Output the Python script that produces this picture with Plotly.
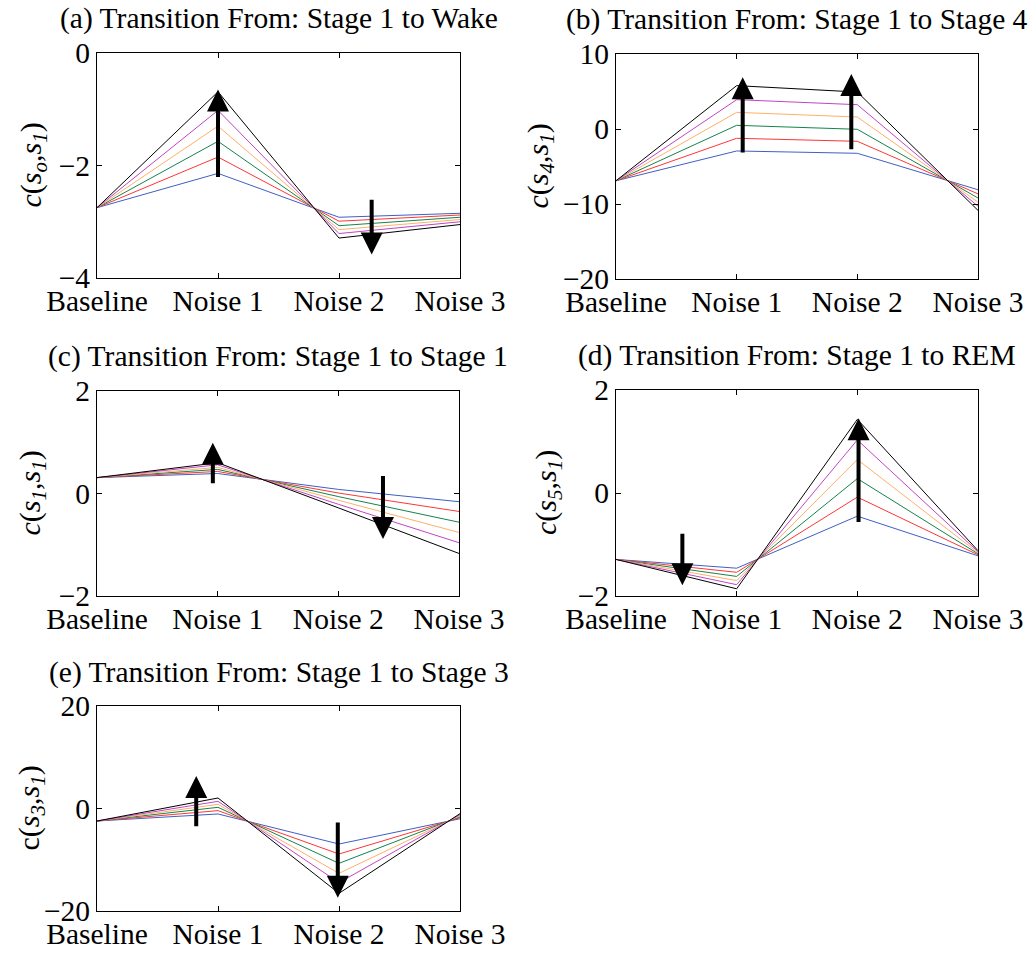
import plotly.graph_objects as go

W, H = 1031, 953

categories = ["Baseline", "Noise 1", "Noise 2", "Noise 3"]
series_colors = ["#3f5fc4", "#ff3535", "#14844c", "#ffb068", "#c444c4", "#000000"]

# panel (a): c(s_o, s_1)
a_blue = [-2.75, -2.14, -2.92, -2.85]
a_red = [-2.75, -1.85, -2.99, -2.88]
a_green = [-2.75, -1.57, -3.07, -2.92]
a_orange = [-2.75, -1.30, -3.14, -2.96]
a_magenta = [-2.75, -1.02, -3.21, -3.00]
a_black = [-2.75, -0.69, -3.29, -3.05]

# panel (b): c(s_4, s_1)
b_blue = [-6.9, -2.93, -3.24, -8.10]
b_red = [-6.9, -1.24, -1.64, -8.65]
b_green = [-6.9, 0.49, -0.04, -9.20]
b_orange = [-6.9, 2.22, 1.60, -9.75]
b_magenta = [-6.9, 3.91, 3.24, -10.30]
b_black = [-6.9, 5.78, 4.93, -10.85]

# panel (c): c(s_1, s_1)
c_blue = [0.31, 0.39, 0.08, -0.16]
c_red = [0.31, 0.43, 0.01, -0.35]
c_green = [0.31, 0.47, -0.06, -0.56]
c_orange = [0.31, 0.51, -0.13, -0.76]
c_magenta = [0.31, 0.56, -0.21, -0.96]
c_black = [0.31, 0.60, -0.28, -1.17]

# panel (d): c(s_5, s_1)
d_blue = [-1.29, -1.46, -0.45, -1.22]
d_red = [-1.29, -1.54, -0.08, -1.20]
d_green = [-1.29, -1.62, 0.28, -1.18]
d_orange = [-1.29, -1.70, 0.65, -1.16]
d_magenta = [-1.29, -1.78, 1.03, -1.14]
d_black = [-1.29, -1.86, 1.43, -1.12]

# panel (e): c(s_3, s_1)
e_blue = [-2.44, -1.07, -6.93, -2.0]
e_red = [-2.44, -0.42, -8.88, -1.8]
e_green = [-2.44, 0.23, -10.70, -1.6]
e_orange = [-2.44, 0.81, -12.65, -1.4]
e_magenta = [-2.44, 1.40, -14.47, -1.2]
e_black = [-2.44, 2.05, -16.55, -1.0]

# arrows: (category index, tail value, tip value)
a_arrows = [(1.0, -2.23, -0.65), (2.27, -2.58, -3.58)]
b_arrows = [(1.05, -3.33, 6.89), (1.95, -2.89, 7.33)]
c_arrows = [(0.96, 0.17, 0.99), (2.37, 0.37, -0.89)]
d_arrows = [(0.55, -0.76, -1.79), (2.01, -0.59, 1.45)]
e_arrows = [(0.82, -3.74, 6.34), (1.99, -2.44, -17.4)]

titles = [
    "(a) Transition From: Stage 1 to Wake",
    "(b) Transition From: Stage 1 to Stage 4",
    "(c) Transition From: Stage 1 to Stage 1",
    "(d) Transition From: Stage 1 to REM",
    "(e) Transition From: Stage 1 to Stage 3",
]
ylabels = [
    "<i>c</i>(<i>s</i><sub><i>o</i></sub>,<i>s</i><sub><i>1</i></sub>)",
    "<i>c</i>(<i>s</i><sub><i>4</i></sub>,<i>s</i><sub><i>1</i></sub>)",
    "<i>c</i>(<i>s</i><sub><i>1</i></sub>,<i>s</i><sub><i>1</i></sub>)",
    "<i>c</i>(<i>s</i><sub><i>5</i></sub>,<i>s</i><sub><i>1</i></sub>)",
    "c(<i>s</i><sub><i>3</i></sub>,<i>s</i><sub><i>1</i></sub>)",
]
yticks = [[-4, -2, 0], [-20, -10, 0, 10], [-2, 0, 2], [-2, 0, 2], [-20, 0, 20]]

panels = [
    [a_blue, a_red, a_green, a_orange, a_magenta, a_black],
    [b_blue, b_red, b_green, b_orange, b_magenta, b_black],
    [c_blue, c_red, c_green, c_orange, c_magenta, c_black],
    [d_blue, d_red, d_green, d_orange, d_magenta, d_black],
    [e_blue, e_red, e_green, e_orange, e_magenta, e_black],
]
arrows = [a_arrows, b_arrows, c_arrows, d_arrows, e_arrows]

# pixel boxes (left, right, top, bottom)
boxes = [
    (97, 460, 53, 278),
    (616, 978, 54, 279),
    (97, 459, 391, 596),
    (616, 978, 390, 596),
    (97, 460, 706, 911),
]
ylabel_x = [32, 539, 31, 548, 30]

FONT = "Liberation Serif"
FS_TICK = 29.5
FS_TITLE = 29.5
FS_YLAB = 30

fig = go.Figure()
layout = dict(
    template="none",
    width=W, height=H, margin=dict(l=0, r=0, t=0, b=0, pad=0), autosize=False,
    paper_bgcolor="white", plot_bgcolor="white", showlegend=False,
    font=dict(family=FONT, size=FS_TICK, color="black"),
)
annotations = []
for i, (series, box) in enumerate(zip(panels, boxes)):
    n = i + 1
    xa = "x" if n == 1 else f"x{n}"
    ya = "y" if n == 1 else f"y{n}"
    l, r, t, b = box
    for vals, col in zip(series, series_colors):
        fig.add_trace(go.Scatter(x=categories, y=vals, mode="lines",
                                 line=dict(color=col, width=1),
                                 xaxis=xa, yaxis=ya, hoverinfo="skip"))
    axcommon = dict(showline=True, linecolor="black", linewidth=1, mirror="ticks",
                    ticks="inside", ticklen=5, tickcolor="black", showgrid=False,
                    zeroline=False, automargin=False,
                    tickfont=dict(family=FONT, size=FS_TICK, color="black"))
    layout["xaxis" if n == 1 else f"xaxis{n}"] = dict(
        domain=[l / W, r / W], anchor=ya, type="category",
        range=[0, 3], categoryorder="array", categoryarray=categories,
        ticklabelstandoff=-3, **axcommon)
    yt = yticks[i]
    layout["yaxis" if n == 1 else f"yaxis{n}"] = dict(
        domain=[1 - b / H, 1 - t / H], anchor=xa, range=[yt[0], yt[-1]],
        tickvals=yt, **axcommon)
    annotations.append(dict(text=titles[i], xref="paper", yref="paper",
                            x=(l + r) / 2 / W, y=1 - (t - 34) / H,
                            xanchor="center", yanchor="middle", showarrow=False,
                            font=dict(family=FONT, size=FS_TITLE, color="black")))
    annotations.append(dict(text=ylabels[i], xref="paper", yref="paper",
                            x=ylabel_x[i] / W, y=1 - (t + b) / 2 / H, textangle=-90,
                            xanchor="center", yanchor="middle", showarrow=False,
                            font=dict(family=FONT, size=FS_YLAB, color="black")))
    for (cx, tail, tip) in arrows[i]:
        annotations.append(dict(text="", xref=xa, yref=ya, axref=xa, ayref=ya,
                                x=cx, y=tip, ax=cx, ay=tail, showarrow=True,
                                arrowhead=2, arrowsize=1.1, arrowwidth=4,
                                arrowcolor="black", standoff=0, startstandoff=0))
layout["annotations"] = annotations
fig.update_layout(**layout)
fig.write_html("out.html")
